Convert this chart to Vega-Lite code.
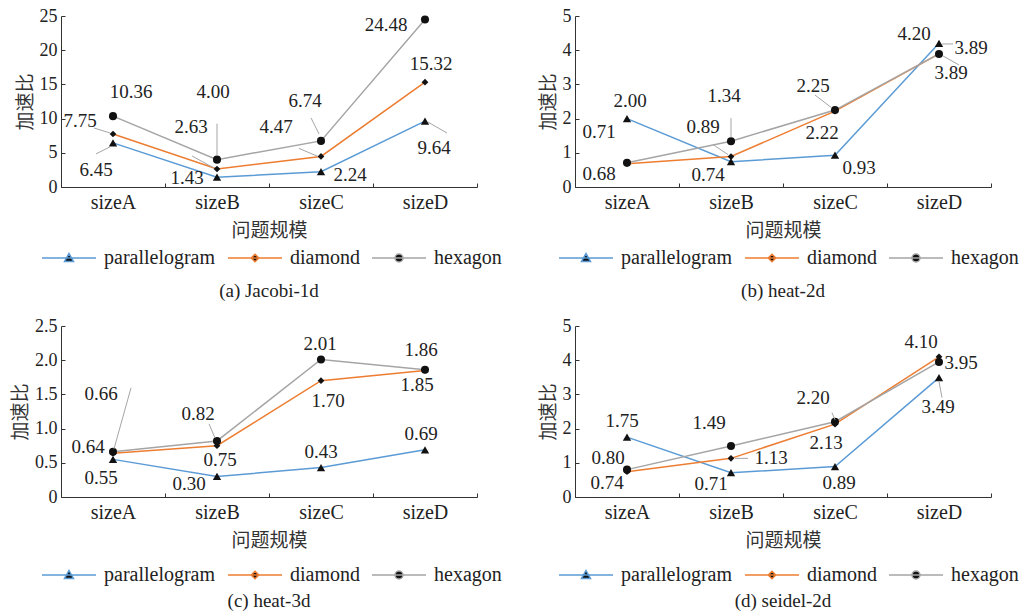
{
  "$schema": "https://vega.github.io/schema/vega-lite/v6.json",
  "background": "white",
  "padding": {"left": 11, "top": 7, "right": 5, "bottom": 5},
  "datasets": {
    "jacobi": [
      {"size": "sizeA", "series": "parallelogram", "value": 6.45},
      {"size": "sizeB", "series": "parallelogram", "value": 1.43},
      {"size": "sizeC", "series": "parallelogram", "value": 2.24},
      {"size": "sizeD", "series": "parallelogram", "value": 9.64},
      {"size": "sizeA", "series": "diamond", "value": 7.75},
      {"size": "sizeB", "series": "diamond", "value": 2.63},
      {"size": "sizeC", "series": "diamond", "value": 4.47},
      {"size": "sizeD", "series": "diamond", "value": 15.32},
      {"size": "sizeA", "series": "hexagon", "value": 10.36},
      {"size": "sizeB", "series": "hexagon", "value": 4.00},
      {"size": "sizeC", "series": "hexagon", "value": 6.74},
      {"size": "sizeD", "series": "hexagon", "value": 24.48}
    ],
    "heat2d": [
      {"size": "sizeA", "series": "parallelogram", "value": 2.00},
      {"size": "sizeB", "series": "parallelogram", "value": 0.74},
      {"size": "sizeC", "series": "parallelogram", "value": 0.93},
      {"size": "sizeD", "series": "parallelogram", "value": 4.20},
      {"size": "sizeA", "series": "diamond", "value": 0.68},
      {"size": "sizeB", "series": "diamond", "value": 0.89},
      {"size": "sizeC", "series": "diamond", "value": 2.22},
      {"size": "sizeD", "series": "diamond", "value": 3.89},
      {"size": "sizeA", "series": "hexagon", "value": 0.71},
      {"size": "sizeB", "series": "hexagon", "value": 1.34},
      {"size": "sizeC", "series": "hexagon", "value": 2.25},
      {"size": "sizeD", "series": "hexagon", "value": 3.89}
    ],
    "heat3d": [
      {"size": "sizeA", "series": "parallelogram", "value": 0.55},
      {"size": "sizeB", "series": "parallelogram", "value": 0.30},
      {"size": "sizeC", "series": "parallelogram", "value": 0.43},
      {"size": "sizeD", "series": "parallelogram", "value": 0.69},
      {"size": "sizeA", "series": "diamond", "value": 0.64},
      {"size": "sizeB", "series": "diamond", "value": 0.75},
      {"size": "sizeC", "series": "diamond", "value": 1.70},
      {"size": "sizeD", "series": "diamond", "value": 1.85},
      {"size": "sizeA", "series": "hexagon", "value": 0.66},
      {"size": "sizeB", "series": "hexagon", "value": 0.82},
      {"size": "sizeC", "series": "hexagon", "value": 2.01},
      {"size": "sizeD", "series": "hexagon", "value": 1.86}
    ],
    "seidel": [
      {"size": "sizeA", "series": "parallelogram", "value": 1.75},
      {"size": "sizeB", "series": "parallelogram", "value": 0.71},
      {"size": "sizeC", "series": "parallelogram", "value": 0.89},
      {"size": "sizeD", "series": "parallelogram", "value": 3.49},
      {"size": "sizeA", "series": "diamond", "value": 0.74},
      {"size": "sizeB", "series": "diamond", "value": 1.13},
      {"size": "sizeC", "series": "diamond", "value": 2.13},
      {"size": "sizeD", "series": "diamond", "value": 4.10},
      {"size": "sizeA", "series": "hexagon", "value": 0.80},
      {"size": "sizeB", "series": "hexagon", "value": 1.49},
      {"size": "sizeC", "series": "hexagon", "value": 2.20},
      {"size": "sizeD", "series": "hexagon", "value": 3.95}
    ]
  },
  "columns": 2,
  "spacing": {"row": 139, "column": 98},
  "bounds": "flush",
  "resolve": {
    "scale": {"x": "independent", "y": "independent", "color": "independent"},
    "axis": {"x": "independent", "y": "independent"},
    "legend": {"color": "independent"}
  },
  "concat": [
    {
      "width": 416, "height": 171,
      "data": {"name": "jacobi"},
      "title": {"text": "(a) Jacobi-1d", "offset": 14},
      "encoding": {
        "x": {"field": "size", "type": "nominal", "scale": {"paddingInner": 0, "paddingOuter": 0}, "axis": {"title": "问题规模"}},
        "y": {"field": "value", "type": "quantitative", "scale": {"domain": [0, 25]}, "axis": {"title": "加速比", "values": [0, 5, 10, 15, 20, 25]}}
      },
      "layer": [
        {
          "mark": {"type": "line", "strokeWidth": 1.5},
          "encoding": {
            "color": {
              "field": "series", "type": "nominal",
              "scale": {"domain": ["parallelogram", "diamond", "hexagon"], "range": ["#5B9BD5", "#ED7D31", "#A5A5A5"]},
              "legend": {
                "orient": "none", "legendX": -24, "legendY": 232, "direction": "horizontal", "columns": 3, "title": null,
                "encode": {"symbols": {"update": {"fill": {"value": "#111"}, "strokeWidth": {"value": 1.5}, "shape": {"signal": "datum.value==='parallelogram'?'M-1,0L9.8,0M4.4,-0.9L5.3,0.7L3.5,0.7Z':datum.value==='diamond'?'M-1,0L9.8,0M4.4,-0.75L5.15,0L4.4,0.75L3.65,0Z':'M-1,0L9.8,0M3.6,0A0.8,0.8 0 1 0 5.2,0A0.8,0.8 0 1 0 3.6,0Z'"}}}}
              }
            }
          }
        },
        {"transform": [{"filter": {"field": "series", "equal": "parallelogram"}}], "mark": {"type": "point", "shape": "triangle-up", "size": 70, "filled": true, "opacity": 1, "color": "#111"}},
        {"transform": [{"filter": {"field": "series", "equal": "diamond"}}], "mark": {"type": "point", "shape": "diamond", "size": 45, "filled": true, "opacity": 1, "color": "#111"}},
        {"transform": [{"filter": {"field": "series", "equal": "hexagon"}}], "mark": {"type": "point", "shape": "circle", "size": 65, "filled": true, "opacity": 1, "color": "#111"}},
        {
          "mark": {
            "type": "rule", "color": "#A5A5A5", "strokeWidth": 1,
            "xOffset": {"expr": "[[-17,0,0,3],[-19,-25,-22,0],[0,0,-10,0]][indexof(['parallelogram','diamond','hexagon'],datum.series)][indexof(['sizeA','sizeB','sizeC','sizeD'],datum.size)]"},
            "yOffset": {"expr": "[[11,0,0,1],[-6,-13,-8,0],[0,-36,-23,0]][indexof(['parallelogram','diamond','hexagon'],datum.series)][indexof(['sizeA','sizeB','sizeC','sizeD'],datum.size)]"},
            "x2Offset": {"expr": "[[-3,0,0,22],[-3,-3,-3,0],[0,0,-2,0]][indexof(['parallelogram','diamond','hexagon'],datum.series)][indexof(['sizeA','sizeB','sizeC','sizeD'],datum.size)]"},
            "y2Offset": {"expr": "[[4,0,0,12],[-1,-1,0,0],[0,-4,-7,0]][indexof(['parallelogram','diamond','hexagon'],datum.series)][indexof(['sizeA','sizeB','sizeC','sizeD'],datum.size)]"}
          },
          "encoding": {"x2": {"field": "size"}, "y2": {"field": "value"}}
        },
        {
          "mark": {
            "type": "text",
            "dx": {"expr": "[[-17,-30,29,9],[-33,-26,-45,6],[18,-4,-16,-39]][indexof(['parallelogram','diamond','hexagon'],datum.series)][indexof(['sizeA','sizeB','sizeC','sizeD'],datum.size)]"},
            "dy": {"expr": "[[27,1,3,27],[-13,-42,-29,-18],[-24,-68,-40,5]][indexof(['parallelogram','diamond','hexagon'],datum.series)][indexof(['sizeA','sizeB','sizeC','sizeD'],datum.size)]"}
          },
          "encoding": {"text": {"field": "value", "type": "quantitative", "format": ".2f"}}
        }
      ]
    },
    {
      "width": 416, "height": 171,
      "data": {"name": "heat2d"},
      "title": {"text": "(b) heat-2d", "offset": 14},
      "encoding": {
        "x": {"field": "size", "type": "nominal", "scale": {"paddingInner": 0, "paddingOuter": 0}, "axis": {"title": "问题规模"}},
        "y": {"field": "value", "type": "quantitative", "scale": {"domain": [0, 5]}, "axis": {"title": "加速比", "values": [0, 1, 2, 3, 4, 5]}}
      },
      "layer": [
        {
          "mark": {"type": "line", "strokeWidth": 1.5},
          "encoding": {
            "color": {
              "field": "series", "type": "nominal",
              "scale": {"domain": ["parallelogram", "diamond", "hexagon"], "range": ["#5B9BD5", "#ED7D31", "#A5A5A5"]},
              "legend": {
                "orient": "none", "legendX": -21, "legendY": 232, "direction": "horizontal", "columns": 3, "title": null,
                "encode": {"symbols": {"update": {"fill": {"value": "#111"}, "strokeWidth": {"value": 1.5}, "shape": {"signal": "datum.value==='parallelogram'?'M-1,0L9.8,0M4.4,-0.9L5.3,0.7L3.5,0.7Z':datum.value==='diamond'?'M-1,0L9.8,0M4.4,-0.75L5.15,0L4.4,0.75L3.65,0Z':'M-1,0L9.8,0M3.6,0A0.8,0.8 0 1 0 5.2,0A0.8,0.8 0 1 0 3.6,0Z'"}}}}
              }
            }
          }
        },
        {"transform": [{"filter": {"field": "series", "equal": "parallelogram"}}], "mark": {"type": "point", "shape": "triangle-up", "size": 70, "filled": true, "opacity": 1, "color": "#111"}},
        {"transform": [{"filter": {"field": "series", "equal": "diamond"}}], "mark": {"type": "point", "shape": "diamond", "size": 45, "filled": true, "opacity": 1, "color": "#111"}},
        {"transform": [{"filter": {"field": "series", "equal": "hexagon"}}], "mark": {"type": "point", "shape": "circle", "size": 65, "filled": true, "opacity": 1, "color": "#111"}},
        {
          "mark": {
            "type": "rule", "color": "#A5A5A5", "strokeWidth": 1,
            "xOffset": {"expr": "[[0,0,0,0],[0,-18,0,3],[0,0,-20,4]][indexof(['parallelogram','diamond','hexagon'],datum.series)][indexof(['sizeA','sizeB','sizeC','sizeD'],datum.size)]"},
            "yOffset": {"expr": "[[0,0,0,0],[0,-12,0,-10],[0,-23,-15,2]][indexof(['parallelogram','diamond','hexagon'],datum.series)][indexof(['sizeA','sizeB','sizeC','sizeD'],datum.size)]"},
            "x2Offset": {"expr": "[[0,0,0,0],[0,-3,0,14],[0,0,-3,20]][indexof(['parallelogram','diamond','hexagon'],datum.series)][indexof(['sizeA','sizeB','sizeC','sizeD'],datum.size)]"},
            "y2Offset": {"expr": "[[0,0,0,0],[0,-2,0,-10],[0,-4,-2,11]][indexof(['parallelogram','diamond','hexagon'],datum.series)][indexof(['sizeA','sizeB','sizeC','sizeD'],datum.size)]"}
          },
          "encoding": {"x2": {"field": "size"}, "y2": {"field": "value"}}
        },
        {
          "mark": {
            "type": "text",
            "dx": {"expr": "[[3,-23,24,-25],[-28,-28,-13,32],[-28,-7,-22,12]][indexof(['parallelogram','diamond','hexagon'],datum.series)][indexof(['sizeA','sizeB','sizeC','sizeD'],datum.size)]"},
            "dy": {"expr": "[[-18,13,13,-9],[10,-30,22,-6],[-31,-45,-24,19]][indexof(['parallelogram','diamond','hexagon'],datum.series)][indexof(['sizeA','sizeB','sizeC','sizeD'],datum.size)]"}
          },
          "encoding": {"text": {"field": "value", "type": "quantitative", "format": ".2f"}}
        }
      ]
    },
    {
      "width": 416, "height": 171,
      "data": {"name": "heat3d"},
      "title": {"text": "(c) heat-3d", "offset": 7},
      "encoding": {
        "x": {"field": "size", "type": "nominal", "scale": {"paddingInner": 0, "paddingOuter": 0}, "axis": {"title": "问题规模"}},
        "y": {"field": "value", "type": "quantitative", "scale": {"domain": [0, 2.5]}, "axis": {"title": "加速比", "values": [0, 0.5, 1, 1.5, 2, 2.5], "labelExpr": "datum.value == 0 ? '0' : format(datum.value, '.1f')"}}
      },
      "layer": [
        {
          "mark": {"type": "line", "strokeWidth": 1.5},
          "encoding": {
            "color": {
              "field": "series", "type": "nominal",
              "scale": {"domain": ["parallelogram", "diamond", "hexagon"], "range": ["#5B9BD5", "#ED7D31", "#A5A5A5"]},
              "legend": {
                "orient": "none", "legendX": -24, "legendY": 239, "direction": "horizontal", "columns": 3, "title": null,
                "encode": {"symbols": {"update": {"fill": {"value": "#111"}, "strokeWidth": {"value": 1.5}, "shape": {"signal": "datum.value==='parallelogram'?'M-1,0L9.8,0M4.4,-0.9L5.3,0.7L3.5,0.7Z':datum.value==='diamond'?'M-1,0L9.8,0M4.4,-0.75L5.15,0L4.4,0.75L3.65,0Z':'M-1,0L9.8,0M3.6,0A0.8,0.8 0 1 0 5.2,0A0.8,0.8 0 1 0 3.6,0Z'"}}}}
              }
            }
          }
        },
        {"transform": [{"filter": {"field": "series", "equal": "parallelogram"}}], "mark": {"type": "point", "shape": "triangle-up", "size": 70, "filled": true, "opacity": 1, "color": "#111"}},
        {"transform": [{"filter": {"field": "series", "equal": "diamond"}}], "mark": {"type": "point", "shape": "diamond", "size": 45, "filled": true, "opacity": 1, "color": "#111"}},
        {"transform": [{"filter": {"field": "series", "equal": "hexagon"}}], "mark": {"type": "point", "shape": "circle", "size": 65, "filled": true, "opacity": 1, "color": "#111"}},
        {
          "mark": {
            "type": "rule", "color": "#A5A5A5", "strokeWidth": 1,
            "xOffset": {"expr": "[[0,0,0,0],[0,0,0,0],[18,-8,0,0]][indexof(['parallelogram','diamond','hexagon'],datum.series)][indexof(['sizeA','sizeB','sizeC','sizeD'],datum.size)]"},
            "yOffset": {"expr": "[[0,0,0,0],[0,0,0,0],[-64,-17,0,0]][indexof(['parallelogram','diamond','hexagon'],datum.series)][indexof(['sizeA','sizeB','sizeC','sizeD'],datum.size)]"},
            "x2Offset": {"expr": "[[0,0,0,0],[0,0,0,0],[1,-2,0,0]][indexof(['parallelogram','diamond','hexagon'],datum.series)][indexof(['sizeA','sizeB','sizeC','sizeD'],datum.size)]"},
            "y2Offset": {"expr": "[[0,0,0,0],[0,0,0,0],[-3,-3,0,0]][indexof(['parallelogram','diamond','hexagon'],datum.series)][indexof(['sizeA','sizeB','sizeC','sizeD'],datum.size)]"}
          },
          "encoding": {"x2": {"field": "size"}, "y2": {"field": "value"}}
        },
        {
          "mark": {
            "type": "text",
            "dx": {"expr": "[[-12,-28,0,-4],[-25,3,7,-8],[-12,-19,-1,-4]][indexof(['parallelogram','diamond','hexagon'],datum.series)][indexof(['sizeA','sizeB','sizeC','sizeD'],datum.size)]"},
            "dy": {"expr": "[[19,8,-16,-16],[-6,14,20,15],[-58,-27,-16,-20]][indexof(['parallelogram','diamond','hexagon'],datum.series)][indexof(['sizeA','sizeB','sizeC','sizeD'],datum.size)]"}
          },
          "encoding": {"text": {"field": "value", "type": "quantitative", "format": ".2f"}}
        }
      ]
    },
    {
      "width": 416, "height": 171,
      "data": {"name": "seidel"},
      "title": {"text": "(d) seidel-2d", "offset": 7},
      "encoding": {
        "x": {"field": "size", "type": "nominal", "scale": {"paddingInner": 0, "paddingOuter": 0}, "axis": {"title": "问题规模"}},
        "y": {"field": "value", "type": "quantitative", "scale": {"domain": [0, 5]}, "axis": {"title": "加速比", "values": [0, 1, 2, 3, 4, 5]}}
      },
      "layer": [
        {
          "mark": {"type": "line", "strokeWidth": 1.5},
          "encoding": {
            "color": {
              "field": "series", "type": "nominal",
              "scale": {"domain": ["parallelogram", "diamond", "hexagon"], "range": ["#5B9BD5", "#ED7D31", "#A5A5A5"]},
              "legend": {
                "orient": "none", "legendX": -21, "legendY": 239, "direction": "horizontal", "columns": 3, "title": null,
                "encode": {"symbols": {"update": {"fill": {"value": "#111"}, "strokeWidth": {"value": 1.5}, "shape": {"signal": "datum.value==='parallelogram'?'M-1,0L9.8,0M4.4,-0.9L5.3,0.7L3.5,0.7Z':datum.value==='diamond'?'M-1,0L9.8,0M4.4,-0.75L5.15,0L4.4,0.75L3.65,0Z':'M-1,0L9.8,0M3.6,0A0.8,0.8 0 1 0 5.2,0A0.8,0.8 0 1 0 3.6,0Z'"}}}}
              }
            }
          }
        },
        {"transform": [{"filter": {"field": "series", "equal": "parallelogram"}}], "mark": {"type": "point", "shape": "triangle-up", "size": 70, "filled": true, "opacity": 1, "color": "#111"}},
        {"transform": [{"filter": {"field": "series", "equal": "diamond"}}], "mark": {"type": "point", "shape": "diamond", "size": 45, "filled": true, "opacity": 1, "color": "#111"}},
        {"transform": [{"filter": {"field": "series", "equal": "hexagon"}}], "mark": {"type": "point", "shape": "circle", "size": 65, "filled": true, "opacity": 1, "color": "#111"}},
        {
          "mark": {
            "type": "rule", "color": "#A5A5A5", "strokeWidth": 1,
            "xOffset": {"expr": "[[0,0,0,3],[0,4,0,0],[0,0,-3,0]][indexof(['parallelogram','diamond','hexagon'],datum.series)][indexof(['sizeA','sizeB','sizeC','sizeD'],datum.size)]"},
            "yOffset": {"expr": "[[0,0,0,20],[0,0,0,0],[0,0,-9,0]][indexof(['parallelogram','diamond','hexagon'],datum.series)][indexof(['sizeA','sizeB','sizeC','sizeD'],datum.size)]"},
            "x2Offset": {"expr": "[[0,0,0,0],[0,17,0,0],[0,0,0,0]][indexof(['parallelogram','diamond','hexagon'],datum.series)][indexof(['sizeA','sizeB','sizeC','sizeD'],datum.size)]"},
            "y2Offset": {"expr": "[[0,0,0,4],[0,0,0,0],[0,0,-2,0]][indexof(['parallelogram','diamond','hexagon'],datum.series)][indexof(['sizeA','sizeB','sizeC','sizeD'],datum.size)]"}
          },
          "encoding": {"x2": {"field": "size"}, "y2": {"field": "value"}}
        },
        {
          "mark": {
            "type": "text",
            "dx": {"expr": "[[-5,-20,4,-1],[-20,40,-9,-18],[-19,-22,-22,22]][indexof(['parallelogram','diamond','hexagon'],datum.series)][indexof(['sizeA','sizeB','sizeC','sizeD'],datum.size)]"},
            "dy": {"expr": "[[-16,11,16,29],[11,0,19,-15],[-12,-23,-24,1]][indexof(['parallelogram','diamond','hexagon'],datum.series)][indexof(['sizeA','sizeB','sizeC','sizeD'],datum.size)]"}
          },
          "encoding": {"text": {"field": "value", "type": "quantitative", "format": ".2f"}}
        }
      ]
    }
  ],
  "config": {
    "view": {"stroke": null},
    "font": "Liberation Serif",
    "axis": {"domainColor": "#333", "tickColor": "#333", "labelFont": "Liberation Serif", "labelColor": "#222", "titleFont": "Noto Sans CJK SC", "titleFontWeight": "normal", "titleColor": "#333", "titleFontSize": 19, "grid": false, "tickSize": -4},
    "axisX": {"labelFontSize": 20, "labelAngle": 0, "tickBand": "extent", "labelPadding": 9, "titlePadding": 9},
    "axisY": {"labelFontSize": 18, "labelPadding": 8, "titlePadding": 4},
    "legend": {"symbolSize": 100, "symbolStrokeWidth": 1.5, "labelFont": "Liberation Serif", "labelFontSize": 20, "labelColor": "#222", "labelOffset": 47, "columnPadding": 7, "symbolType": "M-1,0L9.8,0M4.4,-0.9L5.3,0.7L3.5,0.7Z"},
    "title": {"font": "Liberation Serif", "fontSize": 19, "fontWeight": "normal", "color": "#222", "orient": "bottom", "frame": "group", "anchor": "middle"},
    "text": {"font": "Liberation Serif", "fontSize": 19, "fill": "#222", "align": "center", "baseline": "middle"}
  }
}
